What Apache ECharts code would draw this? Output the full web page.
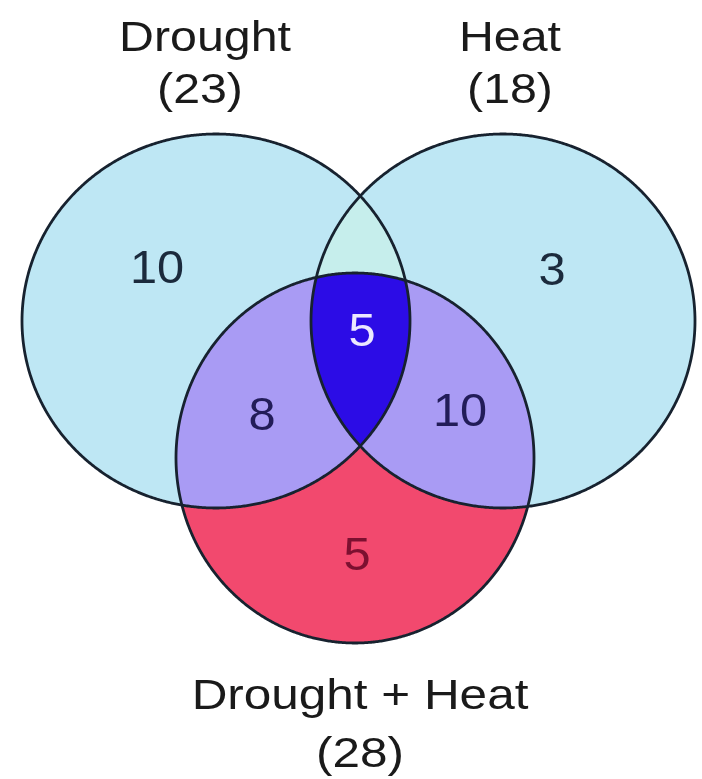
<!DOCTYPE html>
<html>
<head>
<meta charset="utf-8">
<script src="https://cdn.jsdelivr.net/npm/echarts@6/dist/echarts.min.js"></script>
<style>
  html, body { margin: 0; padding: 0; background: #fff; }
  #venn { width: 702px; height: 779px; }
</style>
</head>
<body>
<div id="venn"></div>
<script>
// sets and their totals
var setNames = ['Drought', 'Heat', 'Drought + Heat'];
var setTotals = [23, 18, 28];

// regions: which sets they belong to, and the count in each
var regionSets = [[0], [1], [2], [0, 2], [1, 2], [0, 1, 2], [0, 1]];
var regionCounts = [10, 3, 5, 8, 10, 5, 0];

// layout, in axis units (0..702 across, 0..779 down)
var circleCenters = [[216, 321], [503, 321], [355, 458]];
var circleRadii = [[194, 187], [192, 187], [179, 185]];
var regionLabelPos = [[157, 270], [552, 272], [357, 557], [262, 417], [460, 413], [362, 333], [360, 225]];
var setLabelPos = [[[205, 39], [200, 91]], [[510, 39], [510, 91]], [[360, 697], [360, 755]]];

// styles
var regionFill = ['#bee7f4', '#bee7f4', '#f2496e', '#a99bf4', '#a99bf4', '#2c0ce6', '#c6eeec'];
var regionText = ['#1b2a3c', '#1b2a3c', '#7c1030', '#221c58', '#221c58', '#ece8ff', '#1b2a3c'];
var outline = '#17222f';
var fontFamily = '"Liberation Sans", Arial, Helvetica, sans-serif';

// painting order: full circles first, then the overlaps on top
var fillOrder = [0, 1, 6, 2, 3, 4, 5];

function inside(p, k) {
    var c = circleCenters[k], r = circleRadii[k];
    var dx = (p[0] - c[0]) / r[0], dy = (p[1] - c[1]) / r[1];
    return dx * dx + dy * dy <= 1.0005;
}

// intersection of the given ellipses (always convex) as a list of points
function shapePoints(sets) {
    var pts = [];
    sets.forEach(function (k) {
        var c = circleCenters[k], r = circleRadii[k];
        for (var i = 0; i < 900; i++) {
            var a = i / 900 * Math.PI * 2;
            var p = [c[0] + r[0] * Math.cos(a), c[1] + r[1] * Math.sin(a)];
            var ok = sets.every(function (j) { return j === k || inside(p, j); });
            if (ok) pts.push(p);
        }
    });
    var cx = 0, cy = 0;
    pts.forEach(function (p) { cx += p[0]; cy += p[1]; });
    cx /= pts.length; cy /= pts.length;
    pts.sort(function (a, b) {
        return Math.atan2(a[1] - cy, a[0] - cx) - Math.atan2(b[1] - cy, b[0] - cx);
    });
    return pts;
}

var dom = document.getElementById('venn');
var myChart = echarts.init(dom, null, { renderer: 'canvas' });

var option = {
    animation: false,
    backgroundColor: '#fff',
    grid: { left: 0, right: 0, top: 0, bottom: 0 },
    xAxis: { type: 'value', min: 0, max: 702, show: false },
    yAxis: { type: 'value', min: 0, max: 779, inverse: true, show: false },
    series: [
        {
            // filled regions
            type: 'custom',
            data: fillOrder.map(function (i) { return [i]; }),
            renderItem: function (params, api) {
                var i = api.value(0);
                var pts = shapePoints(regionSets[i]).map(function (p) { return api.coord(p); });
                return {
                    type: 'polygon',
                    shape: { points: pts },
                    style: { fill: regionFill[i], stroke: regionFill[i], lineWidth: 0.5 }
                };
            },
            silent: true
        },
        {
            // circle outlines
            type: 'custom',
            data: setNames.map(function (n, k) { return [k]; }),
            renderItem: function (params, api) {
                var k = api.value(0);
                var pts = shapePoints([k]).map(function (p) { return api.coord(p); });
                return {
                    type: 'polygon',
                    shape: { points: pts },
                    style: { fill: 'none', stroke: outline, lineWidth: 2.8 }
                };
            },
            silent: true
        },
        {
            // counts inside regions
            type: 'custom',
            data: regionCounts.map(function (v, i) { return [i, v]; }),
            renderItem: function (params, api) {
                var i = api.value(0), v = api.value(1);
                if (!v) return null;
                var p = api.coord(regionLabelPos[i]);
                return {
                    type: 'text',
                    x: p[0], y: p[1],
                    scaleX: 1.06,
                    style: {
                        text: String(v), fill: regionText[i],
                        fontSize: 46, fontFamily: fontFamily,
                        align: 'center', verticalAlign: 'middle'
                    }
                };
            },
            silent: true
        },
        {
            // set names with totals
            type: 'custom',
            data: setNames.map(function (n, k) { return [k]; }),
            renderItem: function (params, api) {
                var k = api.value(0);
                var lines = [setNames[k], '(' + setTotals[k] + ')'];
                return {
                    type: 'group',
                    children: lines.map(function (t, j) {
                        var p = api.coord(setLabelPos[k][j]);
                        return {
                            type: 'text',
                            x: p[0], y: p[1],
                            scaleX: 1.15,
                            style: {
                                text: t, fill: '#1a1a1a',
                                fontSize: k === 2 ? 43 : 42, fontFamily: fontFamily,
                                align: 'center', verticalAlign: 'middle'
                            }
                        };
                    })
                };
            },
            silent: true
        }
    ]
};

myChart.setOption(option);
window.addEventListener('resize', myChart.resize);
</script>
</body>
</html>
